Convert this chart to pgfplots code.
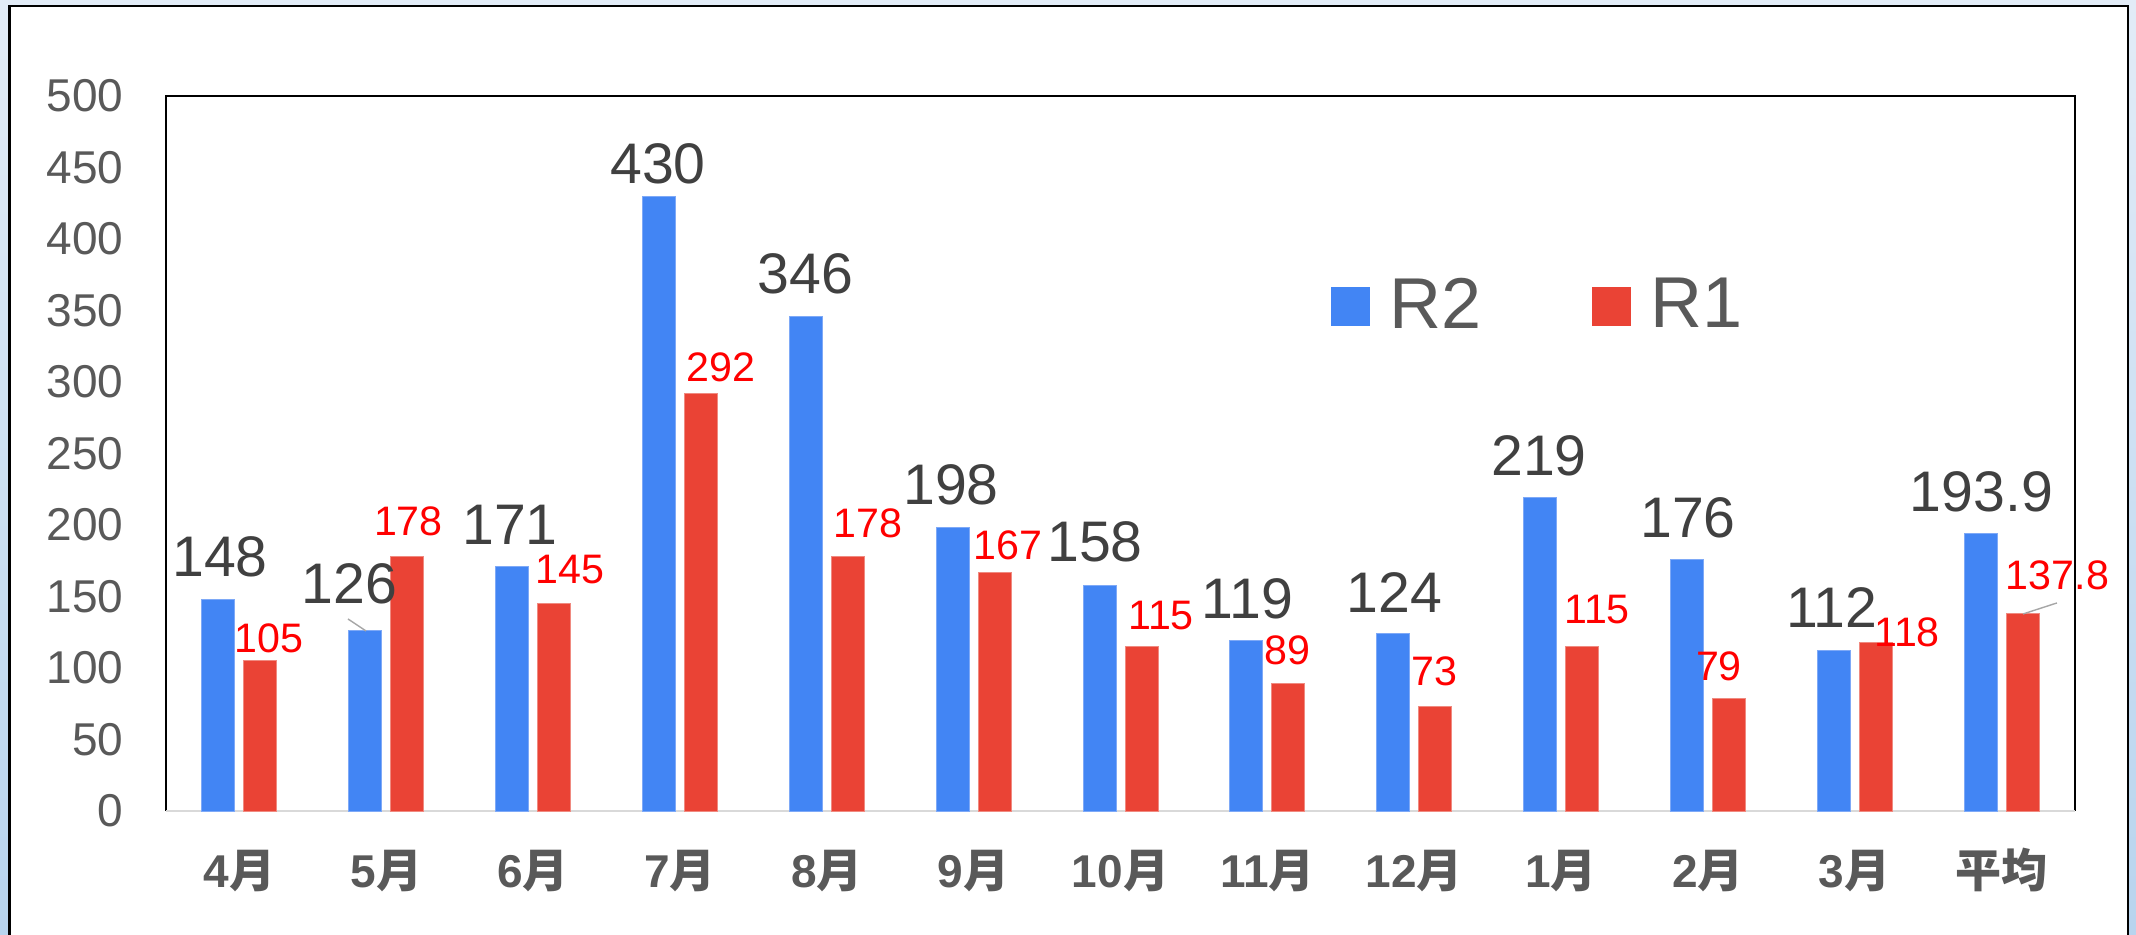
\documentclass[border=0pt]{standalone}
\usepackage{pgfplots}
\pgfplotsset{compat=1.18}
\usepackage{fontspec}
\setmainfont{Liberation Sans}
\newfontfamily\cjk{Noto Sans CJK JP}
\definecolor{bblue}{HTML}{4285F4}
\definecolor{bedge}{HTML}{7EA9F7}
\definecolor{rred}{HTML}{EA4335}
\definecolor{redge}{HTML}{F08A80}
\definecolor{tgray}{HTML}{595959}
\definecolor{lgray}{HTML}{404040}
\definecolor{axgray}{HTML}{D9D9D9}
\definecolor{bgtop}{RGB}{226,236,247}
\definecolor{bgbot}{RGB}{184,212,238}
\begin{document}
\begin{tikzpicture}
\useasboundingbox (0,0) rectangle (534pt,233.5pt);
\shade[top color=bgtop, bottom color=bgbot] (0,0) rectangle (534pt,233.5pt);
\filldraw[fill=white, draw=black, line width=0.7pt] (2.4pt,-5pt) rectangle (532pt,232pt);
\begin{axis}[
  at={(41.5pt,30.75pt)}, anchor=south west,
  scale only axis, width=477.25pt, height=178.75pt,
  clip=false,
  xmin=-0.5, xmax=12.5, ymin=0, ymax=500,
  ytick={0,50,...,500},
  xtick={0,...,12},
  xticklabels={{4\cjk 月},{5\cjk 月},{6\cjk 月},{7\cjk 月},{8\cjk 月},{9\cjk 月},{10\cjk 月},{11\cjk 月},{12\cjk 月},{1\cjk 月},{2\cjk 月},{3\cjk 月},{\cjk 平均}},
  axis line style={draw=none},
  major tick length=0pt,
  tick style={draw=none},
  /pgf/number format/assume math mode=true,
  yticklabel style={font=\fontsize{11.5}{13}\selectfont, text=tgray, anchor=east, inner sep=0pt, xshift=-10.5pt},
  xticklabel style={font=\fontsize{11.5}{13}\selectfont\bfseries, text=tgray, anchor=base, inner sep=0pt, yshift=-19pt},
  legend style={draw=none, fill=none, at={(0.610,0.706)}, anchor=west, inner sep=0pt, outer sep=0pt,
    font=\fontsize{18}{20}\selectfont, text=tgray, legend columns=2,
    nodes={inner sep=0pt},
    /tikz/every odd column/.append style={column sep=5pt},
    /tikz/every even column/.append style={column sep=27.5pt}},
]
\draw[black, line width=0.45pt] (rel axis cs:0,0) -- (rel axis cs:0,1) -- (rel axis cs:1,1) -- (rel axis cs:1,0);
\draw[axgray, line width=0.6pt] (rel axis cs:0,0) -- (rel axis cs:1,0);

\addplot[ybar, bar width=8.25pt, bar shift=-5.25pt, fill=bblue, draw=bedge, line width=0.25pt,
  legend image code/.code={\fill[bblue] (0pt,-4.75pt) rectangle (9.5pt,4.75pt);}]
  coordinates {(0,148) (1,126) (2,171) (3,430) (4,346) (5,198) (6,158) (7,119) (8,124) (9,219) (10,176) (11,112) (12,193.9)};
\addlegendentry{R2}
\addplot[ybar, bar width=8.25pt, bar shift=5.25pt, fill=rred, draw=redge, line width=0.25pt,
  legend image code/.code={\fill[rred] (0pt,-4.75pt) rectangle (9.5pt,4.75pt);}]
  coordinates {(0,105) (1,178) (2,145) (3,292) (4,178) (5,167) (6,115) (7,89) (8,73) (9,115) (10,79) (11,118) (12,137.8)};
\addlegendentry{R1}

% leader lines
\draw[gray!70, line width=0.35pt] (axis cs:0.739,134.3) -- (axis cs:0.862,125.9);
\draw[gray!70, line width=0.35pt] (axis cs:12.146,137.8) -- (axis cs:12.377,145.5);

% R2 labels
\begin{scope}[every node/.style={font=\fontsize{14.3}{15}\selectfont, text=lgray, inner sep=0pt}]
\node at (axis cs:-0.132,177.6) {148};
\node at (axis cs:0.750,158.7) {126};
\node at (axis cs:1.843,200.0) {171};
\node at (axis cs:2.850,452.4) {430};
\node at (axis cs:3.855,375.5) {346};
\node at (axis cs:4.846,228.0) {198};
\node at (axis cs:5.826,188.1) {158};
\node at (axis cs:6.865,148.6) {119};
\node at (axis cs:7.866,153.1) {124};
\node at (axis cs:8.850,248.3) {219};
\node at (axis cs:9.864,204.9) {176};
\node at (axis cs:10.845,142.0) {112};
\node at (axis cs:11.863,223.1) {193.9};
\end{scope}
% R1 labels
\begin{scope}[every node/.style={font=\fontsize{10.3}{11}\selectfont, text=red, inner sep=0pt}]
\node at (axis cs:0.201,121.0) {105};
\node at (axis cs:1.151,202.8) {178};
\node at (axis cs:2.251,169.2) {145};
\node at (axis cs:3.279,310.5) {292};
\node at (axis cs:4.280,201.4) {178};
\node at (axis cs:5.234,186.0) {167};
\node at (axis cs:6.276,136.4) {115};
\node at (axis cs:7.134,112.2) {89};
\node at (axis cs:8.138,97.6) {73};
\node at (axis cs:9.245,140.6) {115};
\node at (axis cs:10.075,101.4) {79};
\node at (axis cs:11.356,124.8) {118};
\node at (axis cs:12.380,165.0) {137.8};
\end{scope}
\end{axis}
\end{tikzpicture}
\end{document}
